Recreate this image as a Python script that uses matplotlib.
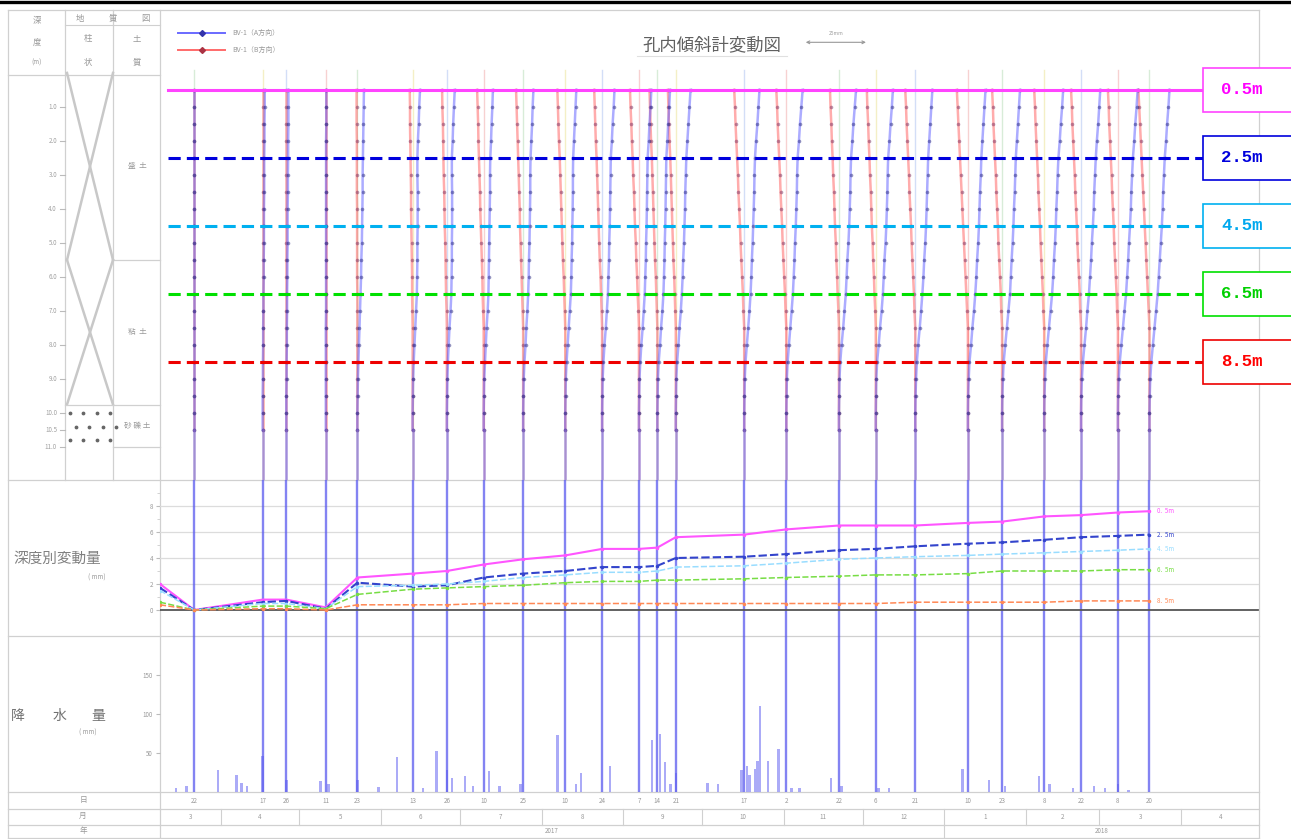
import matplotlib
matplotlib.use("Agg")
import matplotlib.pyplot as plt
import matplotlib.dates as mdates
import matplotlib.transforms as mtransforms
from matplotlib.patches import Rectangle
import numpy as np
import pandas as pd

plt.rcParams['font.family'] = ['Noto Sans CJK JP', 'DejaVu Sans']

# survey dates; the first reading sits on the left edge of the chart
survey_dates = ['2017-03-09', '2017-03-22', '2017-04-17', '2017-04-26', '2017-05-11',
                '2017-05-23', '2017-06-13', '2017-06-26', '2017-07-10', '2017-07-25',
                '2017-08-10', '2017-08-24', '2017-09-07', '2017-09-14', '2017-09-21',
                '2017-10-17', '2017-11-02', '2017-11-22', '2017-12-06', '2017-12-21',
                '2018-01-10', '2018-01-23', '2018-02-08', '2018-02-22', '2018-03-08',
                '2018-03-20']

# gauge depths (m), every 0.5 m
gauge_depths = [0.5, 1.0, 1.5, 2.0, 2.5, 3.0, 3.5, 4.0, 4.5, 5.0, 5.5,
                6.0, 6.5, 7.0, 7.5, 8.0, 8.5, 9.0, 9.5, 10.0, 10.5]
key_depths = [0.5, 2.5, 4.5, 6.5, 8.5]
depth_names = ['0.5m', '2.5m', '4.5m', '6.5m', '8.5m']

# A-direction displacement (mm) per gauge depth, one row per survey
disp_a = [
    [2.0, 1.9, 1.8, 1.8, 1.7, 1.7, 1.6, 1.6, 1.5, 1.3, 1.1, 0.8, 0.6, 0.6, 0.5, 0.5, 0.4, 0.2, 0.1, 0.0, 0.0],
    [0.0, 0.0, 0.0, 0.0, 0.0, 0.0, 0.0, 0.0, 0.0, 0.0, 0.0, 0.0, 0.0, 0.0, 0.0, 0.0, 0.0, 0.0, 0.0, 0.0, 0.0],
    [0.8, 0.8, 0.7, 0.7, 0.6, 0.6, 0.6, 0.5, 0.5, 0.5, 0.4, 0.4, 0.3, 0.3, 0.2, 0.2, 0.1, 0.1, 0.0, 0.0, 0.0],
    [0.8, 0.8, 0.8, 0.7, 0.7, 0.6, 0.6, 0.5, 0.5, 0.5, 0.4, 0.4, 0.3, 0.3, 0.2, 0.2, 0.1, 0.1, 0.0, 0.0, 0.0],
    [0.2, 0.2, 0.2, 0.1, 0.1, 0.1, 0.1, 0.1, 0.1, 0.1, 0.1, 0.1, 0.1, 0.1, 0.0, 0.0, 0.0, 0.0, 0.0, 0.0, 0.0],
    [2.5, 2.4, 2.3, 2.2, 2.1, 2.0, 2.0, 1.9, 1.8, 1.7, 1.5, 1.4, 1.2, 1.0, 0.8, 0.6, 0.4, 0.2, 0.1, 0.0, 0.0],
    [2.8, 2.5, 2.3, 2.0, 1.8, 1.8, 1.9, 1.9, 1.9, 1.8, 1.8, 1.7, 1.6, 1.3, 1.0, 0.7, 0.4, 0.2, 0.1, 0.0, 0.0],
    [3.0, 2.7, 2.4, 2.2, 1.9, 1.9, 2.0, 2.0, 2.0, 1.9, 1.9, 1.8, 1.7, 1.4, 1.0, 0.7, 0.4, 0.2, 0.1, 0.0, 0.0],
    [3.5, 3.3, 3.0, 2.8, 2.5, 2.4, 2.4, 2.3, 2.2, 2.1, 2.0, 1.9, 1.8, 1.5, 1.1, 0.8, 0.5, 0.2, 0.1, 0.0, 0.0],
    [3.9, 3.6, 3.4, 3.1, 2.8, 2.7, 2.7, 2.6, 2.5, 2.4, 2.2, 2.1, 1.9, 1.6, 1.2, 0.9, 0.5, 0.2, 0.1, 0.0, 0.0],
    [4.2, 3.9, 3.6, 3.3, 3.0, 2.9, 2.9, 2.8, 2.7, 2.6, 2.4, 2.3, 2.1, 1.7, 1.3, 0.9, 0.5, 0.2, 0.1, 0.0, 0.0],
    [4.7, 4.4, 4.0, 3.7, 3.3, 3.2, 3.1, 3.0, 2.9, 2.7, 2.6, 2.4, 2.2, 1.8, 1.4, 0.9, 0.5, 0.2, 0.1, 0.0, 0.0],
    [4.7, 4.4, 4.0, 3.7, 3.3, 3.2, 3.1, 3.0, 2.9, 2.7, 2.6, 2.4, 2.2, 1.8, 1.4, 0.9, 0.5, 0.2, 0.1, 0.0, 0.0],
    [4.8, 4.5, 4.1, 3.8, 3.4, 3.3, 3.2, 3.1, 3.0, 2.8, 2.7, 2.5, 2.3, 1.9, 1.4, 1.0, 0.5, 0.2, 0.1, 0.0, 0.0],
    [5.6, 5.2, 4.8, 4.4, 4.0, 3.8, 3.6, 3.5, 3.3, 3.1, 2.8, 2.6, 2.3, 1.9, 1.4, 1.0, 0.5, 0.2, 0.1, 0.0, 0.0],
    [5.8, 5.4, 5.0, 4.5, 4.1, 3.9, 3.8, 3.6, 3.4, 3.2, 2.9, 2.7, 2.4, 2.0, 1.5, 1.0, 0.5, 0.2, 0.1, 0.0, 0.0],
    [6.2, 5.7, 5.2, 4.8, 4.3, 4.1, 4.0, 3.8, 3.6, 3.3, 3.1, 2.8, 2.5, 2.0, 1.5, 1.0, 0.5, 0.2, 0.1, 0.0, 0.0],
    [6.5, 6.0, 5.5, 5.1, 4.6, 4.4, 4.3, 4.1, 3.9, 3.6, 3.2, 2.9, 2.6, 2.1, 1.6, 1.0, 0.5, 0.2, 0.1, 0.0, 0.0],
    [6.5, 6.1, 5.6, 5.2, 4.7, 4.5, 4.4, 4.2, 4.0, 3.7, 3.3, 3.0, 2.7, 2.2, 1.6, 1.1, 0.5, 0.2, 0.1, 0.0, 0.0],
    [6.5, 6.1, 5.7, 5.3, 4.9, 4.7, 4.5, 4.3, 4.1, 3.8, 3.4, 3.1, 2.7, 2.2, 1.7, 1.1, 0.6, 0.3, 0.1, 0.0, 0.0],
    [6.7, 6.3, 5.9, 5.5, 5.1, 4.9, 4.6, 4.4, 4.2, 3.9, 3.5, 3.2, 2.8, 2.3, 1.7, 1.2, 0.6, 0.3, 0.1, 0.0, 0.0],
    [6.8, 6.4, 6.0, 5.6, 5.2, 5.0, 4.8, 4.5, 4.3, 4.0, 3.6, 3.3, 3.0, 2.4, 1.8, 1.2, 0.6, 0.3, 0.1, 0.0, 0.0],
    [7.2, 6.8, 6.3, 5.9, 5.4, 5.1, 4.9, 4.6, 4.4, 4.1, 3.7, 3.4, 3.0, 2.4, 1.8, 1.2, 0.6, 0.3, 0.1, 0.0, 0.0],
    [7.3, 6.9, 6.5, 6.0, 5.6, 5.3, 5.0, 4.8, 4.5, 4.1, 3.8, 3.4, 3.0, 2.4, 1.9, 1.3, 0.7, 0.3, 0.1, 0.0, 0.0],
    [7.5, 7.1, 6.6, 6.2, 5.7, 5.4, 5.1, 4.9, 4.6, 4.2, 3.9, 3.5, 3.1, 2.5, 1.9, 1.3, 0.7, 0.3, 0.1, 0.0, 0.0],
    [7.6, 7.2, 6.7, 6.3, 5.8, 5.5, 5.2, 5.0, 4.7, 4.3, 3.9, 3.5, 3.1, 2.5, 1.9, 1.3, 0.7, 0.3, 0.1, 0.0, 0.0],
]

# B-direction profiles (mm) per gauge depth; several surveys share a reading
b_0 = [0.0, 0.0, 0.0, 0.0, 0.0, 0.0, 0.0, 0.0, 0.0, 0.0, 0.0, 0.0, 0.0, 0.0, 0.0, 0.0, 0.0, 0.0, 0.0, 0.0, 0.0]
b_03 = [-0.3, -0.3, -0.3, -0.2, -0.2, -0.2, -0.2, -0.1, -0.1, -0.1, -0.1, -0.1, 0.0, 0.0, 0.0, 0.0, 0.0, 0.0, 0.0, 0.0, 0.0]
b_11 = [-1.1, -1.0, -1.0, -0.9, -0.8, -0.7, -0.6, -0.6, -0.5, -0.4, -0.3, -0.2, -0.2, -0.1, 0.0, 0.0, 0.0, 0.0, 0.0, 0.0, 0.0]
b_18 = [-1.8, -1.7, -1.5, -1.4, -1.3, -1.2, -1.0, -0.9, -0.8, -0.6, -0.5, -0.4, -0.3, -0.1, 0.0, 0.0, 0.0, 0.0, 0.0, 0.0, 0.0]
b_25 = [-2.5, -2.3, -2.1, -2.0, -1.8, -1.6, -1.4, -1.3, -1.1, -0.9, -0.7, -0.5, -0.4, -0.2, 0.0, 0.0, 0.0, 0.0, 0.0, 0.0, 0.0]
b_27 = [-2.7, -2.5, -2.3, -2.1, -1.9, -1.7, -1.5, -1.3, -1.2, -1.0, -0.8, -0.6, -0.4, -0.2, 0.0, 0.0, 0.0, 0.0, 0.0, 0.0, 0.0]
b_30 = [-3.0, -2.8, -2.6, -2.4, -2.1, -1.9, -1.7, -1.5, -1.3, -1.1, -0.9, -0.6, -0.4, -0.2, 0.0, 0.0, 0.0, 0.0, 0.0, 0.0, 0.0]
b_34 = [-3.4, -3.2, -2.9, -2.7, -2.4, -2.2, -1.9, -1.7, -1.5, -1.2, -1.0, -0.7, -0.5, -0.2, 0.0, 0.0, 0.0, 0.0, 0.0, 0.0, 0.0]
b_38 = [-3.8, -3.5, -3.3, -3.0, -2.7, -2.4, -2.2, -1.9, -1.6, -1.4, -1.1, -0.8, -0.5, -0.3, 0.0, 0.0, 0.0, 0.0, 0.0, 0.0, 0.0]
b_42 = [-4.2, -3.9, -3.6, -3.3, -3.0, -2.7, -2.4, -2.1, -1.8, -1.5, -1.2, -0.9, -0.6, -0.3, 0.0, 0.0, 0.0, 0.0, 0.0, 0.0, 0.0]
disp_b = [b_0, b_0, b_0, b_0, b_0, b_03, b_11, b_18, b_25, b_27, b_30, b_30, b_34,
          b_30, b_30, b_38, b_38, b_34, b_34, b_38, b_42, b_38, b_38, b_38, b_38, b_42]

# daily rainfall (mm)
rain_dates = ['2017-03-15', '2017-03-19', '2017-03-31', '2017-04-07', '2017-04-09',
              '2017-04-11', '2017-04-17', '2017-04-26', '2017-05-09', '2017-05-12',
              '2017-05-23', '2017-05-31', '2017-06-07', '2017-06-17', '2017-06-22',
              '2017-06-26', '2017-06-28', '2017-07-03', '2017-07-06', '2017-07-12',
              '2017-07-16', '2017-07-24', '2017-08-07', '2017-08-14', '2017-08-16',
              '2017-08-27', '2017-09-12', '2017-09-15', '2017-09-17', '2017-09-19',
              '2017-09-21', '2017-10-03', '2017-10-07', '2017-10-16', '2017-10-18',
              '2017-10-19', '2017-10-21', '2017-10-22', '2017-10-23', '2017-10-26',
              '2017-10-30', '2017-11-04', '2017-11-07', '2017-11-19', '2017-11-23',
              '2017-12-07', '2017-12-11', '2018-01-08', '2018-01-18', '2018-01-24',
              '2018-02-06', '2018-02-10', '2018-02-19', '2018-02-27', '2018-03-03',
              '2018-03-08', '2018-03-12']
rain_mm = [5, 8, 28, 22, 12,
           8, 46, 15, 14, 10,
           15, 7, 45, 5, 52,
           28, 18, 20, 8, 27,
           8, 10, 73, 10, 24,
           33, 67, 75, 38, 10,
           25, 12, 10, 28, 33,
           22, 30, 40, 110, 40,
           55, 5, 5, 18, 8,
           5, 5, 30, 15, 8,
           20, 10, 5, 8, 5,
           10, 3]

# soil column: (top, bottom, name)
layers = [(0.0, 5.5, '盛  土'), (5.5, 9.75, '粘  土'), (9.75, 11.0, '砂 礫 土')]
depth_ticks = [1, 2, 3, 4, 5, 6, 7, 8, 9, 10, 10.5, 11]

ref_colors = ['#ff44ff', '#0000dd', '#00b0f0', '#00e000', '#ee0000']
ref_text = ['#ff00ff', '#0000dd', '#00a8ee', '#00d000', '#ff0000']
mid_colors = ['#ff55ff', '#3344cc', '#99ddff', '#77dd44', '#ff8855']

W, H = 1291, 839
MM_TO_DAYS = 1.0


def frac(x0, y0, x1, y1):
    return [x0 / W, 1 - y1 / H, (x1 - x0) / W, (y1 - y0) / H]


fig = plt.figure(figsize=(W / 100, H / 100), dpi=100)
page = fig.add_axes([0, 0, 1, 1])
page.set_xlim(0, W)
page.set_ylim(H, 0)
page.axis('off')

ax_top = fig.add_axes(frac(160, 10, 1260, 480))
ax_mid = fig.add_axes(frac(160, 480, 1260, 636), sharex=ax_top)
ax_bot = fig.add_axes(frac(160, 636, 1260, 792), sharex=ax_top)
ax_day = fig.add_axes(frac(160, 792, 1260, 838), sharex=ax_top)
for ax in (ax_top, ax_mid, ax_bot, ax_day):
    ax.patch.set_visible(False)
    for s in ax.spines.values():
        s.set_visible(False)
    ax.tick_params(bottom=False, labelbottom=False, left=False, labelleft=False)

x_start = mdates.date2num(pd.Timestamp('2017-03-09'))
x_end = mdates.date2num(pd.Timestamp('2018-05-01'))
ax_top.set_xlim(x_start, x_end)
ax_top.set_ylim(11.97, -1.85)
ax_mid.set_ylim(-2, 10)
ax_bot.set_ylim(0, 200)
ax_day.set_ylim(0, 1)

dnum = mdates.date2num(pd.to_datetime(survey_dates))
a = np.array(disp_a)
b = np.array(disp_b)
key_idx = [gauge_depths.index(d) for d in key_depths]

# ---- frame and left-hand table ----
grey = '#d0d0d0'
page.plot([0, W], [1.5, 1.5], color='black', lw=2.4)
for y in (10, 480, 636, 792, 809, 825, 838):
    page.plot([8, 1259], [y, y], color=grey, lw=0.9)
for x in (8, 160, 1259):
    page.plot([x, x], [10, 838], color=grey, lw=0.9)
page.plot([8, 160], [75, 75], color=grey, lw=0.9)
page.plot([65, 160], [25, 25], color=grey, lw=0.8)
for x in (65, 113):
    page.plot([x, x], [10, 480], color=grey, lw=0.9)

hdr = dict(fontsize=6, color='#999999', ha='center', va='center')
page.text(37, 20, '深', **hdr)
page.text(37, 42, '度', **hdr)
page.text(37, 63, '(m)', fontsize=4.5, color='#999999', ha='center', va='center')
for x, t in ((80, '地'), (113, '質'), (145, '図')):
    page.text(x, 18, t, **hdr)
page.text(88, 39, '柱', **hdr)
page.text(88, 62, '状', **hdr)
page.text(137, 39, '土', **hdr)
page.text(137, 62, '質', **hdr)

geo = mtransforms.blended_transform_factory(page.transData, ax_top.transData)
for top, bot, name in layers:
    if name != layers[-1][2]:
        page.plot([67, 113], [top, bot], transform=geo, color='#c8c8c8', lw=1.8)
        page.plot([113, 67], [top, bot], transform=geo, color='#c8c8c8', lw=1.8)
    page.plot([65 if top == 5.5 else 113, 160], [bot, bot], transform=geo, color=grey, lw=0.9)
    page.text(137, (top + bot) / 2, name, transform=geo, fontsize=5.5, color='#999999',
              ha='center', va='center')
gx, gy = np.meshgrid(np.linspace(70, 110, 4), np.linspace(10.0, 10.8, 3))
gx[1] += 6
page.scatter(gx.ravel(), gy.ravel(), transform=geo, s=3, color='#666666')
for d in depth_ticks:
    page.plot([60, 65], [d, d], transform=geo, color='#bbbbbb', lw=0.8)
    page.text(57, d, f'{d:.1f}', transform=geo, fontsize=4.5, color='#a0a0a0',
              ha='right', va='center')

page.text(57, 559, '深度別変動量', fontsize=10.5, color='#808080', ha='center', va='center')
page.text(97, 578, '( mm)', fontsize=4.5, color='#999999', ha='center', va='center')
for x, t in ((18, '降'), (60, '水'), (98, '量')):
    page.text(x, 716, t, fontsize=10, color='#707070', ha='center', va='center')
page.text(88, 733, '( mm)', fontsize=4.5, color='#999999', ha='center', va='center')
for y, t in ((800, '日'), (816, '月'), (831, '年')):
    page.text(83, y, t, fontsize=5.5, color='#999999', ha='center', va='center')

# title, scale bar, legend
page.text(712, 45, '孔内傾斜計変動図', fontsize=12.5, color='#606060', ha='center', va='center')
page.plot([637, 787], [56, 56], color='#e0e0e0', lw=0.8)
sx0 = 0.5845
sx1 = sx0 + 25 * MM_TO_DAYS / (x_end - x_start)
ax_top.annotate('', xy=(sx0, -0.9), xytext=(sx1, -0.9),
                xycoords=ax_top.get_yaxis_transform(),
                arrowprops=dict(arrowstyle='<->', color='#999999', lw=0.8, mutation_scale=5))
ax_top.text((sx0 + sx1) / 2, -1.15, '25mm', transform=ax_top.get_yaxis_transform(),
            fontsize=3.5, color='#999999', ha='center', va='center')
for y, c, mc, t in ((33, '#6a6aff', '#3333aa', 'BV-1（A方向）'), (50, '#ff6a6a', '#aa3344', 'BV-1（B方向）')):
    page.plot([178, 225], [y, y], color=c, lw=1.4)
    page.plot([202], [y], marker='D', ms=3, color=mc)
    page.text(232, y, t, fontsize=5, color='#999999', va='center')

# ---- top panel: depth profiles ----
faint = ['#f5c6c6', '#cfe8cf', '#f2ecb8', '#c9d6f5']
for i in range(1, len(dnum)):
    ax_top.plot([dnum[i]] * 2, [-0.1, 12], color=faint[i % 4], lw=1, alpha=0.8, zorder=1)
    ax_top.plot(dnum[i] + b[i] * MM_TO_DAYS, gauge_depths, color='#ff5a5a', lw=1.8,
                alpha=0.5, zorder=2, marker='o', ms=2.6, mfc='#7a3060', mec='none')
    ax_top.plot(dnum[i] + a[i] * MM_TO_DAYS, gauge_depths, color='#5a5aff', lw=1.8,
                alpha=0.5, zorder=3, marker='o', ms=2.6, mfc='#2a2a80', mec='none')
    ax_top.plot([dnum[i]] * 2, [10.5, 12], color='#8a6ad0', lw=1.8, alpha=0.7, zorder=3)

ytr = ax_top.get_yaxis_transform()
x0f, x1f = 8 / 1100, 1043 / 1100
for j, d in enumerate(key_depths):
    ls = '-' if j == 0 else (0, (4, 2))
    ax_top.plot([x0f, x1f], [d, d], transform=ytr, color=ref_colors[j], lw=2.2,
                linestyle=ls, clip_on=False, zorder=5)
    ax_top.add_patch(Rectangle((x1f, d - 0.65), 0.1, 1.3, transform=ytr, facecolor='white',
                               edgecolor=ref_colors[j], lw=1.2, clip_on=False, zorder=6))
    ax_top.text(1082 / 1100, d, depth_names[j], transform=ytr, fontsize=12.5,
                family='Liberation Mono', fontweight='bold', color=ref_text[j],
                ha='center', va='center', zorder=7, clip_on=False)

# ---- middle panel: displacement by depth ----
for v in (2, 4, 6, 8):
    ax_mid.axhline(v, xmax=1098 / 1100, color='#dcdcdc', lw=0.9)
ax_mid.axhline(0, xmax=1098 / 1100, color='#555555', lw=1.3, zorder=4)
for j, k in enumerate(key_idx):
    ls = '-' if j == 0 else (0, (4, 1.5))
    ax_mid.plot(dnum, a[:, k], color=mid_colors[j], lw=1.5 if j < 2 else 1.1, linestyle=ls,
                marker='o', ms=1.5, zorder=5)
    ax_mid.text(dnum[-1] + 3, a[-1, k], depth_names[j][0] + '.  ' + depth_names[j][2:],
                fontsize=4.5, color=mid_colors[j], va='center')
ax_mid.tick_params(left=True, labelleft=True, direction='out', length=3, color='#bbbbbb',
                   labelsize=4.5, labelcolor='#999999', pad=2)
ax_mid.set_yticks([0, 2, 4, 6, 8])
ax_mid.set_yticks([1, 3, 5, 7, 9], minor=True)
ax_mid.tick_params(which='minor', left=True, length=2, color='#cccccc')

# ---- bottom panel: rainfall ----
ax_bot.bar(mdates.date2num(pd.to_datetime(rain_dates)), rain_mm, width=0.9,
           color='#8f8ff5', alpha=0.75, zorder=2)
ax_bot.tick_params(left=True, labelleft=True, direction='out', length=3, color='#bbbbbb',
                   labelsize=4.5, labelcolor='#999999', pad=2)
ax_bot.set_yticks([50, 100, 150])

for ax in (ax_mid, ax_bot):
    for i in range(1, len(dnum)):
        ax.axvline(dnum[i], color='#5a5aee', lw=1.7, alpha=0.75, zorder=3)

# ---- date rows ----
row_y = 0.63
month_y = 0.283
for i in range(1, len(dnum)):
    ax_day.text(dnum[i], (1 + row_y) / 2, str(pd.Timestamp(survey_dates[i]).day),
                fontsize=4.5, color='#999999', ha='center', va='center')
month_edges = pd.date_range('2017-04-01', '2018-04-01', freq='MS')
edges = np.concatenate([[x_start], mdates.date2num(month_edges), [x_end]])
months = [3] + [m.month for m in month_edges]
for k, m in enumerate(months):
    ax_day.text((edges[k] + edges[k + 1]) / 2, (row_y + month_y) / 2, str(m),
                fontsize=4.5, color='#999999', ha='center', va='center')
for e in edges[1:-1]:
    ax_day.plot([e, e], [month_y, row_y], color=grey, lw=0.8)
new_year = mdates.date2num(pd.Timestamp('2018-01-01'))
ax_day.plot([new_year, new_year], [0, month_y], color=grey, lw=0.8)
for y0, y1, t in ((x_start, new_year, '2017'), (new_year, x_end, '2018')):
    ax_day.text((y0 + y1) / 2, month_y / 2, t, fontsize=4.5, color='#999999',
                ha='center', va='center')

fig.savefig('out.png', dpi=100)
